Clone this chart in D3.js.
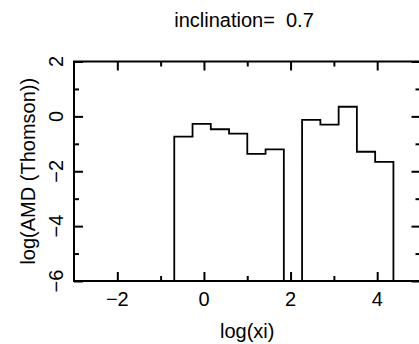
<!DOCTYPE html>
<html>
<head>
<meta charset="utf-8">
<script src="https://cdn.jsdelivr.net/npm/d3@7"></script>
<style>
  html, body { margin: 0; padding: 0; background: #fff; }
  svg { display: block; }
  text { font-family: "Liberation Sans", Arial, Helvetica, sans-serif; fill: #000; white-space: pre; }
</style>
</head>
<body>
<svg id="chart" width="419" height="344"></svg>
<script>
// Histogram of log(AMD) against log(xi); null marks an empty bin
const binEdges = [-0.685, -0.263, 0.158, 0.580, 1.001, 1.423, 1.845, 2.266, 2.688, 3.110, 3.531, 3.953, 4.375];
const binValues = [-0.74, -0.27, -0.47, -0.63, -1.37, -1.20, null, -0.13, -0.30, 0.35, -1.29, -1.66];

const xDomain = [-3, 5];
const yDomain = [-6, 2];
const xTicksMajor = [-2, 0, 2, 4];
const xTicksMinor = [-1, 1, 3];
const yTicksMajor = [-6, -4, -2, 0, 2];
const yTicksMinor = [-5, -3, -1, 1];

const titleText = "inclination=  0.7";
const xLabel = "log(xi)";
const yLabel = "log(AMD (Thomson))";

const box = { left: 74, right: 420.5, top: 61.5, bottom: 281 };

const svg = d3.select("#chart");
const x = d3.scaleLinear().domain(xDomain).range([box.left, box.right]);
const y = d3.scaleLinear().domain(yDomain).range([box.bottom, box.top]);

const fmt = d => (d < 0 ? "\u2212" + Math.abs(d) : String(d));
const majorLen = 9, minorLen = 5;

// Axes: ticks point inward on all four sides
function drawAxis(axis, ticks, len, transform) {
  const g = svg.append("g")
    .attr("transform", transform)
    .call(axis.tickValues(ticks).tickSizeInner(len).tickSizeOuter(0).tickFormat(""));
  g.select(".domain").remove();
  g.selectAll(".tick line").attr("stroke", "#000").attr("stroke-width", 2);
  return g;
}

// bottom
drawAxis(d3.axisTop(x), xTicksMajor, majorLen, `translate(0,${box.bottom})`);
drawAxis(d3.axisTop(x), xTicksMinor, minorLen, `translate(0,${box.bottom})`);
// top
drawAxis(d3.axisBottom(x), xTicksMajor, majorLen, `translate(0,${box.top})`);
drawAxis(d3.axisBottom(x), xTicksMinor, minorLen, `translate(0,${box.top})`);
// left
drawAxis(d3.axisRight(y), yTicksMajor, majorLen, `translate(${box.left},0)`);
drawAxis(d3.axisRight(y), yTicksMinor, minorLen, `translate(${box.left},0)`);
// right
drawAxis(d3.axisLeft(y), yTicksMajor, majorLen, `translate(${box.right},0)`);
drawAxis(d3.axisLeft(y), yTicksMinor, minorLen, `translate(${box.right},0)`);

// Tick labels
svg.append("g").selectAll("text")
  .data(xTicksMajor).join("text")
  .attr("x", d => x(d))
  .attr("y", 306)
  .attr("text-anchor", "middle")
  .attr("font-size", 20)
  .text(fmt);

svg.append("g").selectAll("text")
  .data(yTicksMajor).join("text")
  .attr("transform", d => `translate(63,${y(d)}) rotate(-90)`)
  .attr("text-anchor", "middle")
  .attr("font-size", 20)
  .text(fmt);

// Histogram outline (step function)
const floor = yDomain[0];
const pts = [[binEdges[0], floor]];
binValues.forEach((v, i) => pts.push([binEdges[i], v === null ? floor : v]));
const last = binValues[binValues.length - 1];
pts.push([binEdges[binEdges.length - 1], last === null ? floor : last]);
pts.push([binEdges[binEdges.length - 1], floor]);

svg.append("path")
  .attr("d", d3.line().x(d => x(d[0])).y(d => y(d[1])).curve(d3.curveStepAfter)(pts))
  .attr("fill", "none")
  .attr("stroke", "#000")
  .attr("stroke-width", 1.8);

// Plot frame
svg.append("rect")
  .attr("x", box.left).attr("y", box.top)
  .attr("width", box.right - box.left).attr("height", box.bottom - box.top)
  .attr("fill", "none").attr("stroke", "#000").attr("stroke-width", 2);

// Titles
svg.append("text")
  .attr("x", 244).attr("y", 26.5)
  .attr("text-anchor", "middle").attr("font-size", 20)
  .text(titleText);

svg.append("text")
  .attr("x", x(1)).attr("y", 338)
  .attr("text-anchor", "middle").attr("font-size", 20)
  .text(xLabel);

svg.append("text")
  .attr("transform", `translate(35,${(box.top + box.bottom) / 2}) rotate(-90)`)
  .attr("text-anchor", "middle").attr("font-size", 20)
  .text(yLabel);
</script>
</body>
</html>
